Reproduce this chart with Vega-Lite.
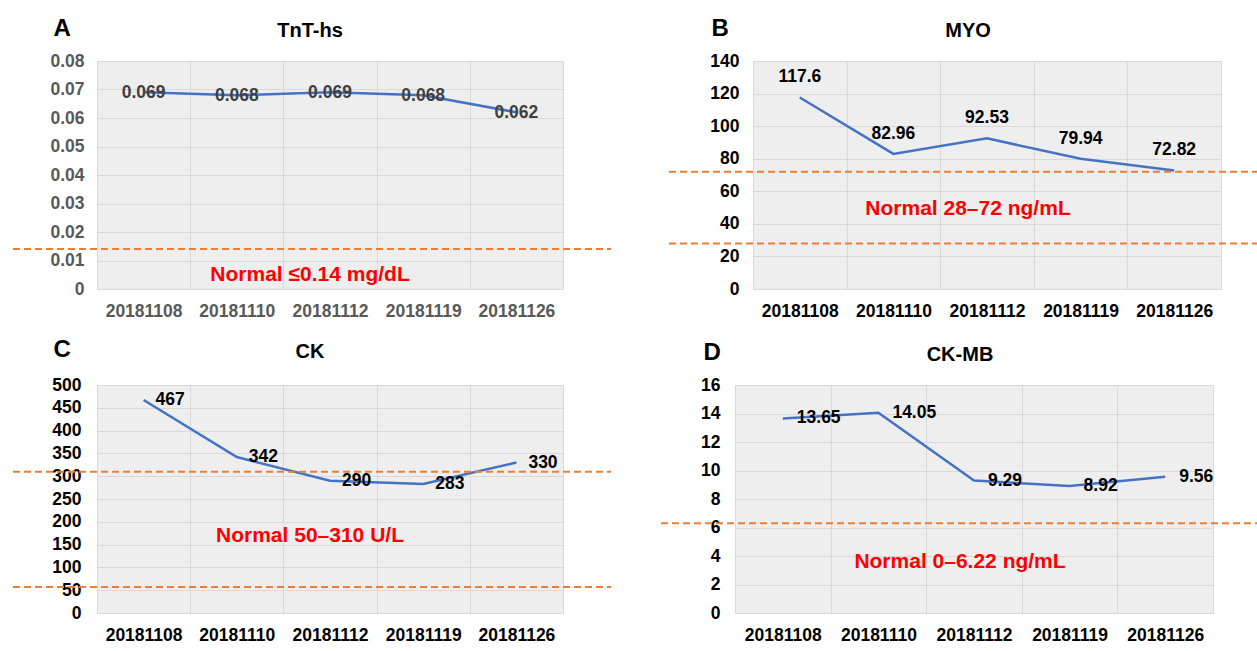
{
  "$schema": "https://vega.github.io/schema/vega-lite/v6.json",
  "padding": {"left": 12, "top": 16, "right": 0, "bottom": 4},
  "background": "white",
  "config": {
    "font": "Liberation Sans",
    "view": {"fill": "#eeeeee", "stroke": null},
    "axis": {
      "labelFont": "Liberation Sans",
      "labelFontWeight": "bold",
      "labelFontSize": 17.5,
      "labelColor": "#000000",
      "domain": false,
      "ticks": false,
      "tickSize": 0,
      "gridColor": "#d9d9d9",
      "gridWidth": 1,
      "titleFont": "Liberation Sans",
      "titleFontSize": 24,
      "titleFontWeight": "bold",
      "titleColor": "#000000",
      "titleAngle": 0,
      "titleAlign": "left",
      "titleBaseline": "alphabetic"
    },
    "title": {"font": "Liberation Sans", "fontSize": 20, "fontWeight": "bold", "color": "#000000", "frame": "group", "anchor": "middle", "baseline": "alphabetic"}
  },
  "datasets": {
    "labs": [
      {"test": "TnT-hs", "date": "20181108", "value": 0.069},
      {"test": "TnT-hs", "date": "20181110", "value": 0.068},
      {"test": "TnT-hs", "date": "20181112", "value": 0.069},
      {"test": "TnT-hs", "date": "20181119", "value": 0.068},
      {"test": "TnT-hs", "date": "20181126", "value": 0.062},
      {"test": "MYO", "date": "20181108", "value": 117.6},
      {"test": "MYO", "date": "20181110", "value": 82.96},
      {"test": "MYO", "date": "20181112", "value": 92.53},
      {"test": "MYO", "date": "20181119", "value": 79.94},
      {"test": "MYO", "date": "20181126", "value": 72.82},
      {"test": "CK", "date": "20181108", "value": 467},
      {"test": "CK", "date": "20181110", "value": 342},
      {"test": "CK", "date": "20181112", "value": 290},
      {"test": "CK", "date": "20181119", "value": 283},
      {"test": "CK", "date": "20181126", "value": 330},
      {"test": "CK-MB", "date": "20181108", "value": 13.65},
      {"test": "CK-MB", "date": "20181110", "value": 14.05},
      {"test": "CK-MB", "date": "20181112", "value": 9.29},
      {"test": "CK-MB", "date": "20181119", "value": 8.92},
      {"test": "CK-MB", "date": "20181126", "value": 9.56}
    ]
  },
  "spacing": 17,
  "vconcat": [
    {
      "bounds": "flush",
      "spacing": 190,
      "hconcat": [
        {
          "width": 466,
          "height": 228,
          "title": {"text": "TnT-hs", "dx": -20, "offset": -25},
          "data": {"name": "labs"},
          "transform": [{"filter": "datum.test === 'TnT-hs'"}],
          "encoding": {
            "x": {"field": "date", "type": "nominal", "sort": null, "bandPosition": 0.5,
                  "scale": {"type": "band", "paddingInner": 0, "paddingOuter": 0},
                  "axis": {"title": null, "labelAngle": 0, "grid": true, "tickBand": "extent", "labelPadding": 13, "labelColor": "#595959"}},
            "y": {"field": "value", "type": "quantitative",
                  "scale": {"domain": [0, 0.08], "nice": false},
                  "axis": {"title": "A", "titleX": -44, "titleY": -26, "values": [0, 0.01, 0.02, 0.03, 0.04, 0.05, 0.06, 0.07, 0.08],
                           "labelExpr": "datum.value == 0 ? '0' : format(datum.value, '.2f')", "labelPadding": 13, "labelColor": "#595959", "grid": true}}
          },
          "layer": [
            {"mark": {"type": "line", "color": "#4472C4", "strokeWidth": 2.5}},
            {"mark": {"type": "text", "align": "center", "baseline": "middle", "dy": 1, "fontSize": 17.5, "fontWeight": "bold", "color": "#404040"},
             "encoding": {"text": {"field": "value", "type": "quantitative", "format": ".3f"}}},
            {"data": {"values": [{"limit": 0.014}]},
             "mark": {"type": "rule", "color": "#ED7D31", "strokeWidth": 2, "strokeDash": [7, 4], "clip": false},
             "encoding": {"y": {"field": "limit", "type": "quantitative"}, "x": {"value": -84}, "x2": {"value": 514}}},
            {"data": {"values": [{"note": "Normal ≤0.14 mg/dL", "date": "20181112", "value": 0.005}]},
             "mark": {"type": "text", "color": "#FF0000", "fontSize": 21, "fontWeight": "bold", "align": "center", "baseline": "middle", "dx": -20},
             "encoding": {"text": {"field": "note"}}}
          ]
        },
        {
          "width": 468,
          "height": 228,
          "title": {"text": "MYO", "dx": -19, "offset": -25},
          "data": {"name": "labs"},
          "transform": [{"filter": "datum.test === 'MYO'"}],
          "encoding": {
            "x": {"field": "date", "type": "nominal", "sort": null, "bandPosition": 0.5,
                  "scale": {"type": "band", "paddingInner": 0, "paddingOuter": 0},
                  "axis": {"title": null, "labelAngle": 0, "grid": true, "tickBand": "extent", "labelPadding": 13}},
            "y": {"field": "value", "type": "quantitative",
                  "scale": {"domain": [0, 140], "nice": false},
                  "axis": {"title": "B", "titleX": -42, "titleY": -26, "values": [0, 20, 40, 60, 80, 100, 120, 140], "labelPadding": 14, "grid": true}}
          },
          "layer": [
            {"mark": {"type": "line", "color": "#4472C4", "strokeWidth": 2.5}},
            {"mark": {"type": "text", "align": "center", "baseline": "middle", "dy": -20, "fontSize": 17.5, "fontWeight": "bold", "color": "#000000"},
             "encoding": {"text": {"field": "value", "type": "quantitative"}}},
            {"data": {"values": [{"limit": 72}, {"limit": 28}]},
             "mark": {"type": "rule", "color": "#ED7D31", "strokeWidth": 2, "strokeDash": [7, 4], "clip": false},
             "encoding": {"y": {"field": "limit", "type": "quantitative"}, "x": {"value": -84}, "x2": {"value": 513}}},
            {"data": {"values": [{"note": "Normal 28–72 ng/mL", "date": "20181112", "value": 49.4}]},
             "mark": {"type": "text", "color": "#FF0000", "fontSize": 21, "fontWeight": "bold", "align": "center", "baseline": "middle", "dx": -19},
             "encoding": {"text": {"field": "note"}}}
          ]
        }
      ]
    },
    {
      "bounds": "flush",
      "spacing": 172,
      "hconcat": [
        {
          "width": 466,
          "height": 228,
          "title": {"text": "CK", "dx": -20, "offset": -25},
          "data": {"name": "labs"},
          "transform": [{"filter": "datum.test === 'CK'"}],
          "encoding": {
            "x": {"field": "date", "type": "nominal", "sort": null, "bandPosition": 0.5,
                  "scale": {"type": "band", "paddingInner": 0, "paddingOuter": 0},
                  "axis": {"title": null, "labelAngle": 0, "grid": true, "tickBand": "extent", "labelPadding": 13}},
            "y": {"field": "value", "type": "quantitative",
                  "scale": {"domain": [0, 500], "nice": false},
                  "axis": {"title": "C", "titleX": -44, "titleY": -29, "values": [0, 50, 100, 150, 200, 250, 300, 350, 400, 450, 500], "labelPadding": 16, "grid": true}}
          },
          "layer": [
            {"mark": {"type": "line", "color": "#4472C4", "strokeWidth": 2.5}},
            {"mark": {"type": "text", "align": "left", "baseline": "middle", "dx": 12, "fontSize": 17.5, "fontWeight": "bold", "color": "#000000"},
             "encoding": {"text": {"field": "value", "type": "quantitative"}}},
            {"data": {"values": [{"limit": 310}, {"limit": 57}]},
             "mark": {"type": "rule", "color": "#ED7D31", "strokeWidth": 2, "strokeDash": [7, 4], "clip": false},
             "encoding": {"y": {"field": "limit", "type": "quantitative"}, "x": {"value": -84}, "x2": {"value": 514}}},
            {"data": {"values": [{"note": "Normal 50–310 U/L", "date": "20181112", "value": 167.8}]},
             "mark": {"type": "text", "color": "#FF0000", "fontSize": 21, "fontWeight": "bold", "align": "center", "baseline": "middle", "dx": -20},
             "encoding": {"text": {"field": "note"}}}
          ]
        },
        {
          "width": 478,
          "height": 228,
          "title": {"text": "CK-MB", "dx": -14, "offset": -25},
          "data": {"name": "labs"},
          "transform": [{"filter": "datum.test === 'CK-MB'"}],
          "encoding": {
            "x": {"field": "date", "type": "nominal", "sort": null, "bandPosition": 0.5,
                  "scale": {"type": "band", "paddingInner": 0, "paddingOuter": 0},
                  "axis": {"title": null, "labelAngle": 0, "grid": true, "tickBand": "extent", "labelPadding": 13}},
            "y": {"field": "value", "type": "quantitative",
                  "scale": {"domain": [0, 16], "nice": false},
                  "axis": {"title": "D", "titleX": -32, "titleY": -26, "values": [0, 2, 4, 6, 8, 10, 12, 14, 16], "labelPadding": 15, "grid": true}}
          },
          "layer": [
            {"mark": {"type": "line", "color": "#4472C4", "strokeWidth": 2.5}},
            {"mark": {"type": "text", "align": "left", "baseline": "middle", "dx": 14, "fontSize": 17.5, "fontWeight": "bold", "color": "#000000"},
             "encoding": {"text": {"field": "value", "type": "quantitative"}}},
            {"data": {"values": [{"limit": 6.3}]},
             "mark": {"type": "rule", "color": "#ED7D31", "strokeWidth": 2, "strokeDash": [7, 4], "clip": false},
             "encoding": {"y": {"field": "limit", "type": "quantitative"}, "x": {"value": -74}, "x2": {"value": 523}}},
            {"data": {"values": [{"note": "Normal 0–6.22 ng/mL", "date": "20181112", "value": 3.6}]},
             "mark": {"type": "text", "color": "#FF0000", "fontSize": 21, "fontWeight": "bold", "align": "center", "baseline": "middle", "dx": -14},
             "encoding": {"text": {"field": "note"}}}
          ]
        }
      ]
    }
  ]
}
